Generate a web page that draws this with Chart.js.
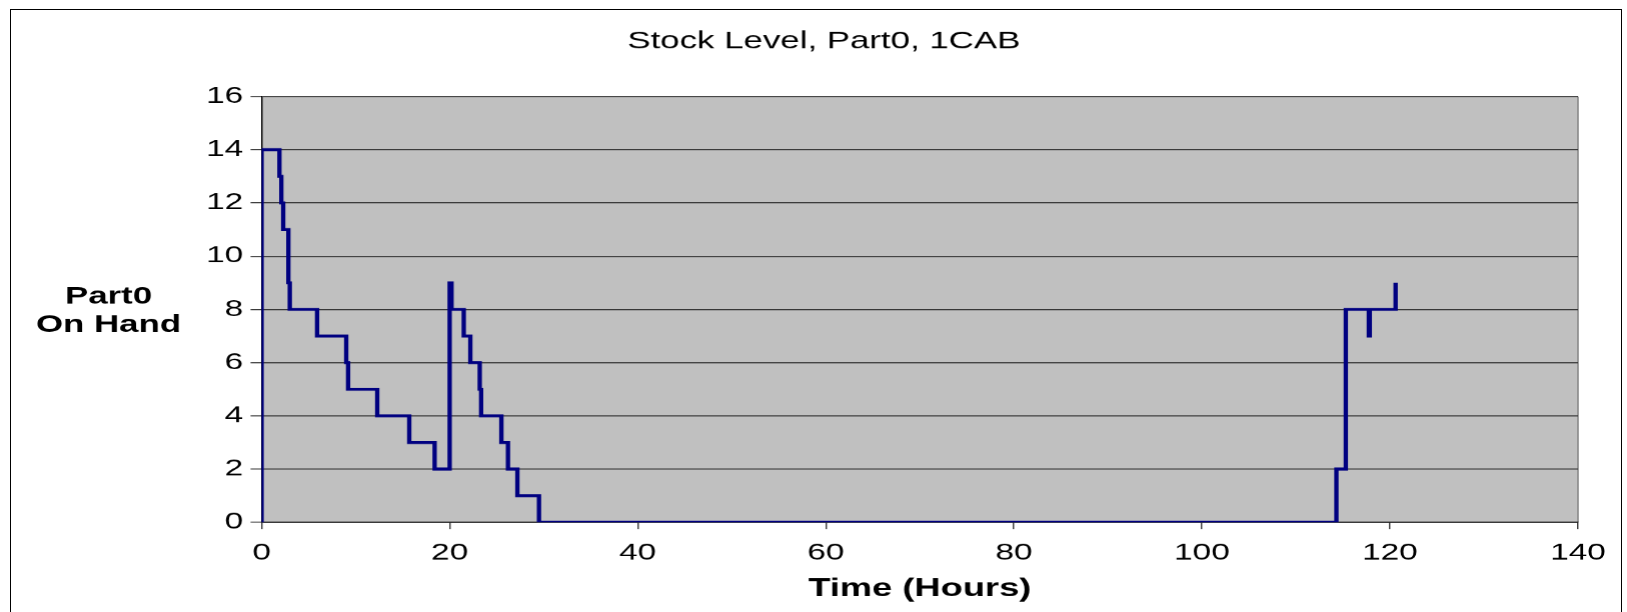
<!DOCTYPE html>
<html>
<head>
<meta charset="utf-8">
<script src="https://cdn.jsdelivr.net/npm/chart.js@4.4.1/dist/chart.umd.min.js"></script>
<style>
html,body{margin:0;padding:0;background:#fff;}
#wrap{position:relative;width:1627px;height:612px;overflow:hidden;background:#fff;}
/* the original picture is stretched sideways, so the chart is laid out narrow and widened */
#stretch{position:absolute;left:0;top:0;width:1122px;height:612px;transform:scaleX(1.4501);transform-origin:0 0;}
#frame{position:absolute;left:10px;top:9px;width:1612px;height:700px;border:1px solid #000;box-sizing:border-box;pointer-events:none;}
</style>
</head>
<body>
<div id="wrap">
  <div id="stretch"><canvas id="stockChart"></canvas></div>
  <div id="frame"></div>
</div>
<script>
// time (hours) at which the stock level changes, and the new level
const hours=[0,0,1.9,2.1,2.3,2.85,3.0,5.9,9.0,9.2,12.3,15.7,18.4,20.0,20.2,21.5,22.2,23.2,23.35,25.5,26.2,27.2,29.5,114.3,115.3,117.75,117.85,120.6];
const onHand=[0,14,13,12,11,9,8,7,6,5,4,3,2,9,8,7,6,5,4,3,2,1,0,2,8,7,8,9];
const xRange=[0,140];
const yRange=[0,16];
const yTitleLines=['Part0','On Hand'];

Chart.defaults.font.family='"Liberation Sans", Arial, sans-serif';
Chart.defaults.color='#000';

const plotBg={
  id:'plotBg',
  beforeDraw(chart){
    const {ctx,chartArea:a}=chart;
    ctx.save();
    ctx.fillStyle='#c0c0c0';
    ctx.fillRect(a.left,a.top,a.right-a.left,a.bottom-a.top);
    ctx.strokeStyle='#808080';
    ctx.lineWidth=1;
    ctx.beginPath();
    ctx.moveTo(a.right,a.top);
    ctx.lineTo(a.right,a.bottom);
    ctx.stroke();
    ctx.restore();
  }
};

// horizontal two-line y title, Chart.js only draws it rotated
const sideTitle={
  id:'sideTitle',
  afterDraw(chart){
    const ctx=chart.ctx;
    ctx.save();
    ctx.font='bold 24px "Liberation Sans", Arial, sans-serif';
    ctx.fillStyle='#000';
    ctx.textAlign='center';
    ctx.textBaseline='middle';
    yTitleLines.forEach((t,i)=>ctx.fillText(t,74.8,297+i*28));
    ctx.restore();
  }
};

new Chart(document.getElementById('stockChart'),{
  type:'line',
  data:{datasets:[{
    label:'Part0',
    data:hours.map((h,i)=>({x:h,y:onHand[i]})),
    borderColor:'#000080',borderWidth:3,pointRadius:0,stepped:true,fill:false,clip:0
  }]},
  options:{
    responsive:true,maintainAspectRatio:false,animation:false,devicePixelRatio:1.45,
    layout:{padding:{left:48,right:34.4,top:0,bottom:0}},
    plugins:{
      legend:{display:false},
      tooltip:{enabled:false},
      title:{display:true,text:'Stock Level, Part0, 1CAB',color:'#000',font:{size:24,weight:'normal'},padding:{top:27,bottom:40.7}}
    },
    scales:{
      x:{
        type:'linear',min:xRange[0],max:xRange[1],
        ticks:{stepSize:20,color:'#000',font:{size:23},padding:10},
        grid:{drawOnChartArea:false,drawTicks:true,tickLength:7,color:'#404040'},
        border:{color:'#000',width:1},
        title:{display:true,text:'Time (Hours)',color:'#000',font:{size:25,weight:'bold'},padding:{top:0,bottom:8}},
        afterFit(s){s.height=90;}
      },
      y:{
        min:yRange[0],max:yRange[1],
        ticks:{stepSize:2,color:'#000',font:{size:23},padding:5},
        grid:{color:'#333',tickLength:7.6},
        border:{color:'#000',width:1},
        afterFit(s){s.width=132.3;}
      }
    }
  },
  plugins:[plotBg,sideTitle]
});
</script>
</body>
</html>
